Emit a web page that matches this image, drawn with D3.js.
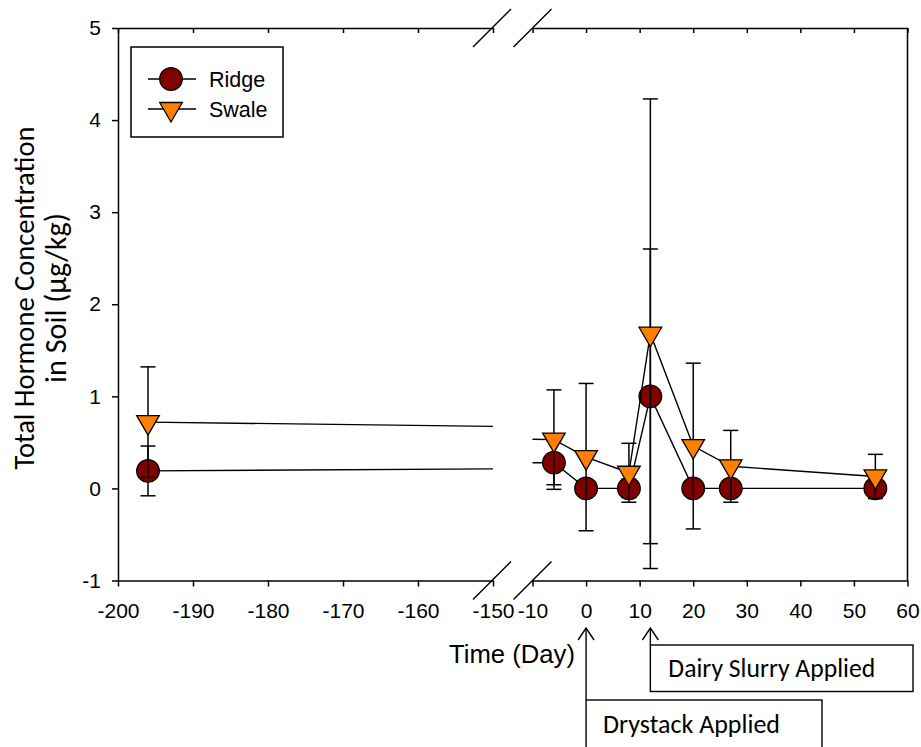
<!DOCTYPE html>
<html>
<head>
<meta charset="utf-8">
<script src="https://cdn.jsdelivr.net/npm/d3@7"></script>
<style>
  body { margin: 0; background: #fff; }
  .tick text { font-family: "Liberation Sans", Arial, sans-serif; font-size: 21px; fill: #000; }
  .axis path, .axis line { stroke: #000; stroke-width: 1.5; }
</style>
</head>
<body>
<div id="chart"></div>
<script>
// data (day, mean, error)
var days = [-196, -6, 0, 8, 12, 20, 27, 54];
var ridgeValues = [0.19, 0.28, 0, 0, 1.0, 0, 0, 0];
var ridgeErrors = [0.27, 0.24, 0, 0.1, 1.6, 0, 0, 0];
var swaleValues = [0.72, 0.53, 0.34, 0.17, 1.68, 0.46, 0.24, 0.13];
var swaleErrors = [0.6, 0.54, 0.8, 0.32, 2.55, 0.9, 0.39, 0.24];

var leftTicks = [-200, -190, -180, -170, -160, -150];
var rightTicks = [-10, 0, 10, 20, 30, 40, 50, 60];
var yTicks = [-1, 0, 1, 2, 3, 4, 5];
var seriesNames = ["Ridge", "Swale"];

var width = 921, height = 747;
var plotLeft = 118, plotRight = 907.5, plotTop = 28, plotBottom = 580.5;
var breakLo = -150, breakHi = -10;
var ridgeColor = "#800000", swaleColor = "#ff8000";
var calibri = "Calibri, Carlito, Lato, sans-serif";
var arial = "Liberation Sans, Arial, sans-serif";

var svg = d3.select("#chart")
    .append("svg")
    .attr("width", width)
    .attr("height", height);

var xLeft = d3.scaleLinear().domain([-200, breakLo]).range([plotLeft, 493]);
var xRight = d3.scaleLinear().domain([breakHi, 60]).range([532.5, plotRight]);
var x = function (d) { return d <= breakLo ? xLeft(d) : xRight(d); };
var y = d3.scaleLinear().domain([-1, 5]).range([plotBottom, plotTop]);
var fmt = function (d) { return String(d); };

// axes
svg.append("g").attr("class", "axis")
    .attr("transform", "translate(0," + plotBottom + ")")
    .call(d3.axisBottom(xLeft).tickValues(leftTicks).tickFormat(fmt).tickSize(6).tickSizeOuter(0).tickPadding(17));
svg.append("g").attr("class", "axis")
    .attr("transform", "translate(0," + plotBottom + ")")
    .call(d3.axisBottom(xRight).tickValues(rightTicks).tickFormat(fmt).tickSize(6).tickSizeOuter(0).tickPadding(17));
svg.append("g").attr("class", "axis")
    .attr("transform", "translate(0," + plotTop + ")")
    .call(d3.axisTop(xLeft).tickValues(leftTicks).tickSize(-5).tickSizeOuter(0).tickFormat(""));
svg.append("g").attr("class", "axis")
    .attr("transform", "translate(0," + plotTop + ")")
    .call(d3.axisTop(xRight).tickValues(rightTicks).tickSize(-5).tickSizeOuter(0).tickFormat(""));
svg.append("g").attr("class", "axis")
    .attr("transform", "translate(" + plotLeft + ",0)")
    .call(d3.axisLeft(y).tickValues(yTicks).tickFormat(fmt).tickSize(6).tickSizeOuter(0).tickPadding(11));
svg.append("line")
    .attr("x1", plotRight).attr("x2", plotRight)
    .attr("y1", plotTop).attr("y2", plotBottom)
    .attr("stroke", "#000").attr("stroke-width", 1.5);

// break marks
[plotTop, plotBottom].forEach(function (yy) {
    [xLeft(breakLo) - 1, xRight(breakHi)].forEach(function (xx) {
        svg.append("line")
            .attr("x1", xx - 19).attr("y1", yy + 19)
            .attr("x2", xx + 19).attr("y2", yy - 19)
            .attr("stroke", "#000").attr("stroke-width", 1.5);
    });
});

// split a series where it crosses the axis break (straight in data space)
function segments(values) {
    var segs = [], cur = [];
    days.forEach(function (d, i) {
        if (i > 0 && days[i - 1] <= breakLo && d >= breakHi) {
            var at = function (t) {
                return values[i - 1] + (values[i] - values[i - 1]) * (t - days[i - 1]) / (d - days[i - 1]);
            };
            cur.push([breakLo, at(breakLo)]);
            segs.push(cur);
            cur = [[breakHi, at(breakHi)]];
        }
        cur.push([d, values[i]]);
    });
    segs.push(cur);
    return segs;
}

var line = d3.line()
    .x(function (d) { return x(d[0]); })
    .y(function (d) { return y(d[1]); });

function triangle(cx, cy) {
    return "M" + (cx - 11.3) + "," + (cy - 6.5) + "L" + (cx + 11.3) + "," + (cy - 6.5) +
        "L" + cx + "," + (cy + 13) + "Z";
}

function drawSeries(values, errors, kind) {
    var g = svg.append("g");
    g.selectAll(".seg")
        .data(segments(values))
        .enter().append("path")
        .attr("d", line)
        .attr("fill", "none")
        .attr("stroke", "#000")
        .attr("stroke-width", 1.4);

    var data = days.map(function (d, i) { return { day: d, v: values[i], e: errors[i] }; });
    var eb = g.selectAll(".err").data(data.filter(function (d) { return d.e > 0; })).enter().append("g");
    eb.append("line")
        .attr("x1", function (d) { return x(d.day); }).attr("x2", function (d) { return x(d.day); })
        .attr("y1", function (d) { return y(d.v + d.e); }).attr("y2", function (d) { return y(d.v - d.e); });
    eb.append("line")
        .attr("x1", function (d) { return x(d.day) - 7.5; }).attr("x2", function (d) { return x(d.day) + 7.5; })
        .attr("y1", function (d) { return y(d.v + d.e); }).attr("y2", function (d) { return y(d.v + d.e); });
    eb.append("line")
        .attr("x1", function (d) { return x(d.day) - 7.5; }).attr("x2", function (d) { return x(d.day) + 7.5; })
        .attr("y1", function (d) { return y(d.v - d.e); }).attr("y2", function (d) { return y(d.v - d.e); });
    eb.selectAll("line").attr("stroke", "#000").attr("stroke-width", 1.5);

    if (kind === "circle") {
        g.selectAll(".pt").data(data).enter().append("circle")
            .attr("cx", function (d) { return x(d.day); })
            .attr("cy", function (d) { return y(d.v); })
            .attr("r", 11.3)
            .attr("fill", ridgeColor).attr("stroke", "#000").attr("stroke-width", 1.3);
    } else {
        g.selectAll(".pt").data(data).enter().append("path")
            .attr("d", function (d) { return triangle(x(d.day), y(d.v)); })
            .attr("fill", swaleColor).attr("stroke", "#000").attr("stroke-width", 1.3);
    }
}

drawSeries(ridgeValues, ridgeErrors, "circle");
drawSeries(swaleValues, swaleErrors, "triangle");

// legend
var legend = svg.append("g");
legend.append("rect")
    .attr("x", 131).attr("y", 47).attr("width", 152).attr("height", 90)
    .attr("fill", "#fff").attr("stroke", "#000").attr("stroke-width", 1.5);
seriesNames.forEach(function (name, i) {
    var ly = 79 + i * 30;
    legend.append("line")
        .attr("x1", 148).attr("x2", 196).attr("y1", ly).attr("y2", ly)
        .attr("stroke", "#000").attr("stroke-width", 1.4);
    if (i === 0) {
        legend.append("circle").attr("cx", 171).attr("cy", ly).attr("r", 11.3)
            .attr("fill", ridgeColor).attr("stroke", "#000").attr("stroke-width", 1.3);
    } else {
        legend.append("path").attr("d", triangle(171, ly))
            .attr("fill", swaleColor).attr("stroke", "#000").attr("stroke-width", 1.3);
    }
    legend.append("text")
        .attr("x", 209).attr("y", ly + 7.5)
        .style("font-family", arial).style("font-size", "21.5px")
        .text(name);
});

// fit a substitute font to the width measured on the figure
function fitText(sel, target) {
    var w = sel.node().getComputedTextLength();
    var fs = parseFloat(sel.style("font-size"));
    sel.style("font-size", (fs * target / w) + "px");
    return sel;
}

// axis titles
fitText(svg.append("text")
    .attr("x", 512).attr("y", 663)
    .attr("text-anchor", "middle")
    .style("font-family", arial).style("font-size", "21px")
    .text("Time (Day)"), 126);

var yTitle = svg.append("g").attr("transform", "translate(0,298) rotate(-90)");
fitText(yTitle.append("text")
    .attr("x", 0).attr("y", 34)
    .attr("text-anchor", "middle")
    .style("font-family", calibri).style("font-size", "26px")
    .text("Total Hormone Concentration"), 343);
fitText(yTitle.append("text")
    .attr("x", 0).attr("y", 66)
    .attr("text-anchor", "middle")
    .style("font-family", calibri).style("font-size", "26px")
    .text("in Soil (\u00b5g/kg)"), 170);

// annotations
function arrowHead(xx, yy) {
    svg.append("path")
        .attr("d", "M" + (xx - 8) + "," + (yy + 12) + "L" + xx + "," + yy + "L" + (xx + 8) + "," + (yy + 12))
        .attr("fill", "none").attr("stroke", "#000").attr("stroke-width", 1.4);
}

var dairyX = x(12), dryX = x(0);
arrowHead(dairyX, 628);
svg.append("line").attr("x1", dairyX).attr("x2", dairyX).attr("y1", 628).attr("y2", 645)
    .attr("stroke", "#000").attr("stroke-width", 1.4);
svg.append("rect")
    .attr("x", dairyX).attr("y", 645).attr("width", 913 - dairyX).attr("height", 46.5)
    .attr("fill", "#fff").attr("stroke", "#000").attr("stroke-width", 1.4);
fitText(svg.append("text")
    .attr("x", dairyX + 18).attr("y", 677)
    .style("font-family", calibri).style("font-size", "22px")
    .text("Dairy Slurry Applied"), 207);

arrowHead(dryX, 628);
svg.append("line").attr("x1", dryX).attr("x2", dryX).attr("y1", 628).attr("y2", 700)
    .attr("stroke", "#000").attr("stroke-width", 1.4);
svg.append("rect")
    .attr("x", dryX).attr("y", 700).attr("width", 822 - dryX).attr("height", 60)
    .attr("fill", "#fff").attr("stroke", "#000").attr("stroke-width", 1.4);
fitText(svg.append("text")
    .attr("x", dryX + 17).attr("y", 733)
    .style("font-family", calibri).style("font-size", "22px")
    .text("Drystack Applied"), 177);
</script>
</body>
</html>
